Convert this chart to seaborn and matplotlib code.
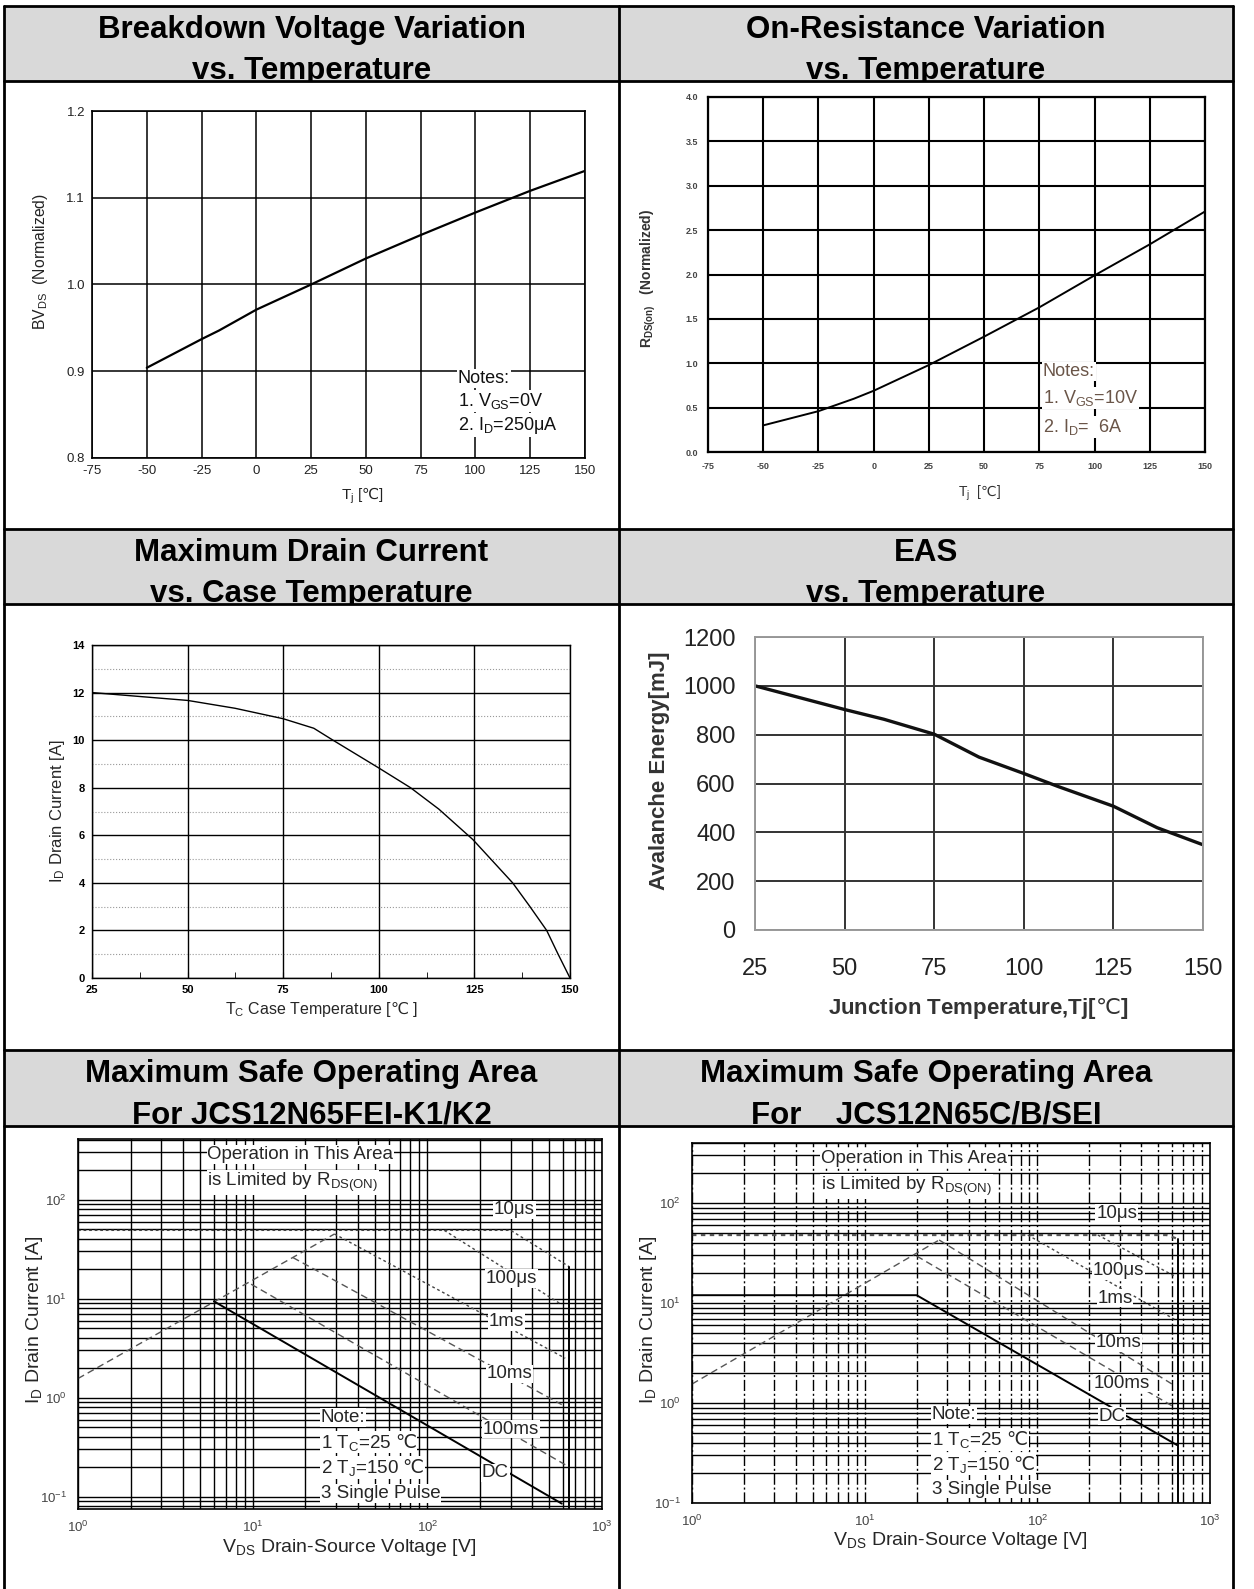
import numpy as np
import pandas as pd
import matplotlib
matplotlib.use("Agg")
import matplotlib.pyplot as plt
import seaborn as sns
from matplotlib import font_manager
from matplotlib.patches import Rectangle
from matplotlib.lines import Line2D
from matplotlib.ticker import FixedLocator, NullFormatter, FormatStrFormatter, LogLocator, MultipleLocator

# ---- data ----
bv_temp = [-50, -25, -17, 0, 25, 50, 75, 100, 125, 150]
bv_norm = [0.904, 0.937, 0.947, 0.971, 1.000, 1.030, 1.057, 1.083, 1.108, 1.131]

rds_temp = [-50, -25, -9, 0, 25, 50, 75, 100, 125, 150]
rds_norm = [0.30, 0.46, 0.60, 0.69, 0.98, 1.30, 1.63, 1.99, 2.34, 2.71]

id_temp = [25, 50, 62.4, 75, 83, 88, 100, 108.3, 115.7, 124.6, 135, 139.4, 143.9, 146.8, 150]
id_curr = [12.0, 11.67, 11.34, 10.9, 10.5, 10.0, 8.83, 8.0, 7.1, 5.82, 4.0, 3.03, 2.0, 1.03, 0.0]

eas_temp = [25, 50, 61, 75, 87.5, 100, 109.7, 125, 137.2, 150]
eas_mj = [1000, 903, 863, 802, 708, 641, 587, 507, 419, 349]

# SOA for JCS12N65FEI-K1/K2 (left)
l_rds_v, l_rds_i = [1, 29.4], [1.56, 45]
l_10us_v, l_10us_i = [1, 300, 650], [49, 49, 21]
l_100us_v, l_100us_i = [125, 588], [49, 8.7]
l_1ms_v, l_1ms_i = [29.4, 616], [45, 2.5]
l_10ms_v, l_10ms_i = [17, 588], [26, 0.85]
l_100ms_v, l_100ms_i = [9.8, 616], [14, 0.21]
l_dc_v, l_dc_i = [6, 588], [9.4, 0.085]
l_bv_v, l_bv_i = [650, 650], [21, 0.07]

# SOA for JCS12N65C/B/SEI (right)
r_rds_v, r_rds_i = [1, 27], [1.55, 42.8]
r_10us_v, r_10us_i = [1, 560, 650], [48, 48, 44]
r_100us_v, r_100us_i = [224, 621], [48, 18.7]
r_1ms_v, r_1ms_i = [88, 621], [48, 6.9]
r_10ms_v, r_10ms_i = [27, 621], [42.8, 1.5]
r_100ms_v, r_100ms_i = [20, 621], [29.6, 0.91]
r_dc_v, r_dc_i = [1, 20, 644], [12, 12, 0.38]
r_bv_v, r_bv_i = [650, 650], [44, 0.1]

pulse_labels = ["10μs", "100μs", "1ms", "10ms", "100ms", "DC"]
l_lbl_v = [315, 302, 283, 295, 300, 245]
l_lbl_i = [79, 16, 5.9, 1.74, 0.48, 0.174]
r_lbl_v = [288, 296, 282, 296, 309, 270]
r_lbl_i = [79, 21, 11.2, 4.0, 1.58, 0.74]

DEG = "$\\mathrm{\u2103}$"
note_lines = ["Note:", "1 T$_C$=25 " + DEG, "2 T$_J$=150 " + DEG, "3 Single Pulse"]
l_note_i = [0.63, 0.355, 0.196, 0.107]
r_note_i = [0.76, 0.43, 0.245, 0.138]

titles = [["Breakdown Voltage Variation\nvs. Temperature", "On-Resistance Variation\nvs. Temperature"],
          ["Maximum Drain Current\nvs. Case Temperature", "EAS\nvs. Temperature"],
          ["Maximum Safe Operating Area\nFor JCS12N65FEI-K1/K2", "Maximum Safe Operating Area\nFor    JCS12N65C/B/SEI"]]

sns.set_style("white")
plt.rcParams['font.family'] = ['Liberation Sans', 'DejaVu Sans']
plt.rcParams['mathtext.default'] = 'regular'
plt.rcParams['axes.unicode_minus'] = False

# the SOA charts use a condensed face
try:
    font_manager.findfont('Liberation Sans Narrow', fallback_to_default=False)
    soa_family = ['Liberation Sans Narrow', 'DejaVu Sans']
    soa_fs, soa_lab_fs = 15.5, 16
except ValueError:
    soa_family = ['Liberation Sans', 'DejaVu Sans']
    soa_fs, soa_lab_fs = 13.5, 14

W, H = 1254, 1589
fig = plt.figure(figsize=(W / 100, H / 100), dpi=100)


def add_ax(x0, y0, x1, y1):
    return fig.add_axes([x0 / W, 1 - y1 / H, (x1 - x0) / W, (y1 - y0) / H])


def fig_line(xs, ys, lw=2.0):
    fig.add_artist(Line2D([x / W for x in xs], [1 - y / H for y in ys], color='k', lw=lw,
                          transform=fig.transFigure, zorder=10))


# ---- table frame and headers ----
col_x = [4, 619, 1233]
hdr_rows = [(6, 81), (529, 604), (1050, 1126)]
for r, (t, b) in enumerate(hdr_rows):
    fig.add_artist(Rectangle((col_x[0] / W, 1 - b / H), (col_x[2] - col_x[0]) / W, (b - t) / H,
                             transform=fig.transFigure, facecolor='#d9d9d9', edgecolor='none', zorder=0))
    for c in range(2):
        clip = Rectangle((col_x[c] / W, 1 - b / H), (col_x[c + 1] - col_x[c]) / W, (b - t) / H,
                         transform=fig.transFigure, facecolor='none', edgecolor='none')
        fig.add_artist(clip)
        cx = (col_x[c] + col_x[c + 1]) / 2
        l1, l2 = titles[r][c].split("\n")
        for txt, yy in [(l1, t + 32), (l2, t + 73)]:
            tt = fig.text(cx / W, 1 - yy / H, txt, ha='center', va='baseline', fontsize=22.5,
                          fontweight='bold', color='k')
            tt.set_clip_path(clip)
    fig_line([col_x[0], col_x[2]], [t, t])
    fig_line([col_x[0], col_x[2]], [b, b])
for x in col_x:
    fig_line([x, x], [6, H])


def frame(ax, color='k', lw=1.2):
    for s in ax.spines.values():
        s.set_visible(True)
        s.set_color(color)
        s.set_linewidth(lw)


# ---- 1. breakdown voltage ----
ax = add_ax(92, 111, 585, 458)
sns.lineplot(x=bv_temp, y=bv_norm, ax=ax, color='k', lw=1.6, sort=False, estimator=None)
ax.set_xlim(-75, 150)
ax.set_ylim(0.8, 1.2)
ax.set_xticks(range(-75, 151, 25))
ax.set_yticks([0.8, 0.9, 1.0, 1.1, 1.2])
ax.yaxis.set_major_formatter(FormatStrFormatter('%.1f'))
ax.grid(True, color='k', lw=1.1)
frame(ax)
ax.tick_params(length=0, labelsize=9.5, colors='#222', pad=5)
ax.set_ylabel("BV$_{DS}$  (Normalized)", fontsize=11.3, color='#222')
ax.yaxis.set_label_coords(-0.085, 0.565)
ax.set_xlabel("T$_j$ [" + DEG + "]", fontsize=11, color='#222')
ax.xaxis.set_label_coords(0.548, -0.08)
for txt, yy in zip(["Notes:", "1. V$_{GS}$=0V", "2. I$_D$=250μA"], [0.892, 0.866, 0.838]):
    ax.text(92, yy, txt, fontsize=13, va='center', ha='left', color='#111',
            bbox=dict(facecolor='white', edgecolor='none', pad=0.8))

# ---- 2. on-resistance ----
ax = add_ax(708, 97, 1205, 452)
sns.lineplot(x=rds_temp, y=rds_norm, ax=ax, color='k', lw=1.4, sort=False, estimator=None)
ax.set_xlim(-75, 150)
ax.set_ylim(0, 4.0)
ax.set_xticks(range(-75, 151, 25))
ax.set_yticks(np.arange(0, 4.01, 0.5))
ax.yaxis.set_major_formatter(FormatStrFormatter('%.1f'))
ax.grid(True, color='k', lw=1.5)
frame(ax, lw=1.6)
ax.tick_params(length=0, labelsize=6.5, colors='#444', pad=7)
for lab in ax.get_xticklabels() + ax.get_yticklabels():
    lab.set_fontweight('bold')
ax.set_ylabel("R$_{DS(on)}$   (Normalized)", fontsize=10, fontweight='bold', color='#333')
ax.yaxis.set_label_coords(-0.1, 0.49)
ax.set_xlabel("T$_j$  [" + DEG + "]", fontsize=10, color='#333')
ax.xaxis.set_label_coords(0.547, -0.09)
for txt, yy in zip(["Notes:", "1. V$_{GS}$=10V", "2. I$_D$=  6A"], [0.91, 0.61, 0.28]):
    ax.text(76.5, yy, txt, fontsize=13, va='center', ha='left', color='#6a5548',
            bbox=dict(facecolor='white', edgecolor='none', pad=0.8))

# ---- 3. maximum drain current ----
ax = add_ax(92, 645, 570, 978)
sns.lineplot(x=id_temp, y=id_curr, ax=ax, color='k', lw=1.0, sort=False, estimator=None)
ax.set_xlim(25, 150)
ax.set_ylim(0, 14)
ax.xaxis.set_major_locator(MultipleLocator(25))
ax.xaxis.set_minor_locator(MultipleLocator(12.5))
ax.yaxis.set_major_locator(MultipleLocator(2))
ax.yaxis.set_minor_locator(MultipleLocator(1))
ax.grid(True, which='major', color='k', lw=1.0)
ax.grid(True, which='minor', axis='y', color='#999', lw=0.8, ls=':')
frame(ax, lw=1.0)
ax.tick_params(which='both', direction='in', bottom=True, length=4, labelsize=8, colors='k', pad=5)
ax.tick_params(which='major', left=False)
for lab in ax.get_xticklabels() + ax.get_yticklabels():
    lab.set_fontweight('bold')
ax.set_ylabel("I$_D$ Drain Current [A]", fontsize=12)
ax.yaxis.set_label_coords(-0.052, 0.5)
ax.set_xlabel("T$_C$ Case Temperature [" + DEG + " ]", fontsize=11.5)
ax.xaxis.set_label_coords(0.48, -0.065)

# ---- 4. EAS ----
ax = add_ax(755, 637, 1203, 930)
sns.lineplot(x=eas_temp, y=eas_mj, ax=ax, color='#111', lw=2.4, sort=False, estimator=None)
ax.set_xlim(25, 150)
ax.set_ylim(0, 1200)
ax.set_xticks(range(25, 151, 25))
ax.set_yticks(range(0, 1201, 200))
ax.grid(True, color='#333', lw=1.4)
frame(ax, color='#999', lw=1.4)
ax.tick_params(length=0, labelsize=17, colors='#222')
ax.tick_params(axis='x', pad=20)
ax.tick_params(axis='y', pad=14)
ax.set_ylabel("Avalanche Energy[mJ]", fontsize=16, fontweight='bold', color='#333')
ax.yaxis.set_label_coords(-0.19, 0.545)
ax.set_xlabel("Junction Temperature,Tj[" + DEG + "]", fontsize=16, fontweight='bold', color='#333')
ax.xaxis.set_label_coords(0.498, -0.225)


# ---- 5/6. safe operating area ----
def draw_soa(ax, segs, ylim, vstyle, lbl_v, lbl_i, note_i, op_v, op_i):
    ax.set_xscale('log')
    ax.set_yscale('log')
    for v, i, st, col, lw in segs:
        sns.lineplot(x=v, y=i, ax=ax, color=col, lw=lw, linestyle=st, sort=False, estimator=None)
    ax.set_xlim(1, 1000)
    ax.set_ylim(*ylim)
    ax.xaxis.set_major_locator(FixedLocator([1, 10, 100, 1000]))
    ax.yaxis.set_major_locator(FixedLocator([0.1, 1, 10, 100]))
    ax.xaxis.set_minor_locator(LogLocator(base=10, subs=np.arange(2, 10), numticks=20))
    ax.yaxis.set_minor_locator(LogLocator(base=10, subs=np.arange(2, 10), numticks=20))
    ax.xaxis.set_minor_formatter(NullFormatter())
    ax.yaxis.set_minor_formatter(NullFormatter())
    ax.set_xticklabels(["$10^{0}$", "$10^{1}$", "$10^{2}$", "$10^{3}$"])
    ax.set_yticklabels(["$10^{-1}$", "$10^{0}$", "$10^{1}$", "$10^{2}$"])
    ax.grid(True, which='both', axis='y', color='k', lw=1.0)
    ax.grid(True, which='both', axis='x', color='k', lw=1.0, ls=vstyle)
    frame(ax, lw=1.2)
    ax.tick_params(which='both', length=0, labelsize=9.5, colors='#444', pad=8)
    ax.set_ylabel("I$_D$ Drain Current [A]", fontsize=soa_lab_fs, family=soa_family)
    ax.yaxis.set_label_coords(-0.063, 0.51)
    ax.set_xlabel("V$_{DS}$ Drain-Source Voltage [V]", fontsize=soa_lab_fs, family=soa_family)
    ax.xaxis.set_label_coords(0.518, -0.075)
    box = dict(facecolor='white', edgecolor='none', pad=0.6)
    kw = dict(fontsize=soa_fs, family=soa_family, va='center', bbox=box)
    ax.text(op_v, op_i[0], "Operation in This Area", ha='left', **kw)
    ax.text(op_v, op_i[1], "is Limited by R$_{DS(ON)}$", ha='left', **kw)
    for txt, v, i in zip(pulse_labels, lbl_v, lbl_i):
        ax.text(v, i, txt, ha='center', **kw)
    for txt, i in zip(note_lines, note_i):
        ax.text(24.5, i, txt, ha='left', **kw)


dash = (0, (5, 3))
dot = (0, (2, 2))

ax = add_ax(78, 1139, 602, 1509)
draw_soa(ax, [(l_rds_v, l_rds_i, dash, '#555', 1.0),
              (l_10us_v, l_10us_i, dot, '#444', 1.0),
              (l_100us_v, l_100us_i, dot, '#444', 1.0),
              (l_1ms_v, l_1ms_i, dot, '#444', 1.0),
              (l_10ms_v, l_10ms_i, dash, '#555', 1.0),
              (l_100ms_v, l_100ms_i, dash, '#555', 1.0),
              (l_dc_v, l_dc_i, '-', 'k', 1.4),
              (l_bv_v, l_bv_i, '-', 'k', 1.4)],
         (0.075, 410), '-', l_lbl_v, l_lbl_i, l_note_i, 5.5, [285, 148])

ax = add_ax(692, 1143, 1210, 1503)
draw_soa(ax, [(r_rds_v, r_rds_i, dash, '#555', 1.0),
              (r_10us_v, r_10us_i, dot, '#555', 1.6),
              (r_100us_v, r_100us_i, dot, '#444', 1.0),
              (r_1ms_v, r_1ms_i, dot, '#444', 1.0),
              (r_10ms_v, r_10ms_i, dash, '#555', 1.0),
              (r_100ms_v, r_100ms_i, dash, '#555', 1.0),
              (r_dc_v, r_dc_i, '-', 'k', 1.4),
              (r_bv_v, r_bv_i, '-', 'k', 1.4)],
         (0.1, 400), (0, (8, 2, 1.5, 2)), r_lbl_v, r_lbl_i, r_note_i, 5.6, [282, 148])

fig.savefig("out.png", dpi=100)
